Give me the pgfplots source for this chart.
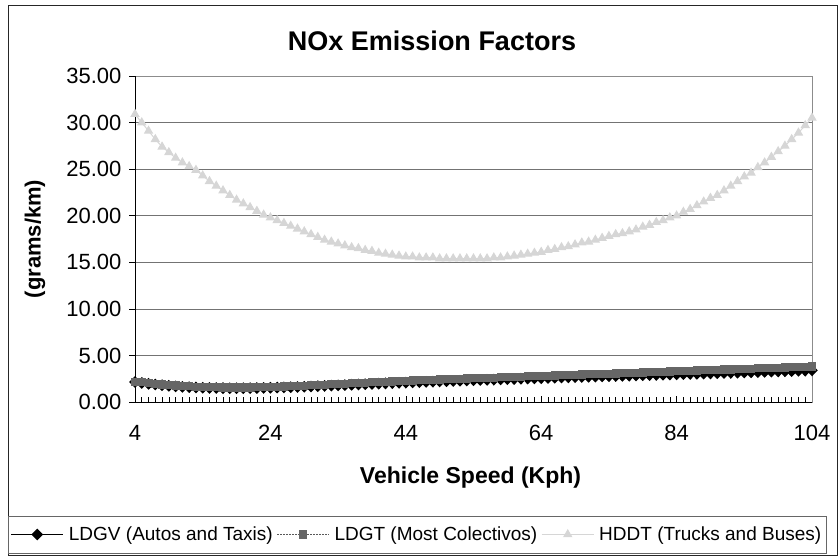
\documentclass[border=0pt]{standalone}
\usepackage{fontspec}
\setmainfont{Liberation Sans}
\usepackage{pgfplots}
\usepackage{pgfplotstable}
\pgfplotsset{compat=1.18}

% NOx emission factors (g/km) by vehicle speed (km/h)
\pgfplotstableread{
speed ldgv ldgt hddt
4 2.15 2.20 30.9
5 2.05 2.12 30.0
6 1.95 2.04 29.1
7 1.88 1.97 28.2
8 1.80 1.90 27.4
9 1.74 1.84 26.8
10 1.68 1.78 26.2
11 1.63 1.73 25.7
12 1.59 1.69 25.3
13 1.56 1.65 24.9
14 1.53 1.62 24.3
15 1.51 1.60 23.7
16 1.50 1.58 23.2
17 1.49 1.57 22.7
18 1.48 1.56 22.2
19 1.48 1.56 21.7
20 1.48 1.56 21.3
21 1.49 1.57 20.9
22 1.50 1.58 20.5
23 1.51 1.60 20.1
24 1.53 1.62 19.8
25 1.55 1.64 19.5
26 1.57 1.67 19.2
27 1.59 1.70 18.9
28 1.61 1.73 18.6
29 1.64 1.76 18.3
30 1.67 1.80 18.0
31 1.70 1.83 17.7
32 1.73 1.87 17.4
33 1.76 1.91 17.2
34 1.79 1.94 17.0
35 1.82 1.98 16.8
36 1.85 2.02 16.6
37 1.88 2.05 16.5
38 1.91 2.09 16.3
39 1.94 2.12 16.2
40 1.97 2.16 16.0
41 2.00 2.19 15.9
42 2.03 2.22 15.8
43 2.06 2.25 15.7
44 2.08 2.28 15.6
45 2.11 2.31 15.6
46 2.13 2.34 15.5
47 2.16 2.37 15.5
48 2.18 2.40 15.5
49 2.21 2.43 15.4
50 2.23 2.45 15.4
51 2.26 2.48 15.4
52 2.28 2.51 15.4
53 2.31 2.53 15.4
54 2.33 2.56 15.4
55 2.36 2.58 15.4
56 2.38 2.61 15.4
57 2.40 2.63 15.5
58 2.43 2.66 15.5
59 2.45 2.68 15.6
60 2.47 2.71 15.7
61 2.50 2.73 15.8
62 2.52 2.76 15.9
63 2.54 2.78 16.0
64 2.56 2.81 16.1
65 2.58 2.83 16.3
66 2.61 2.86 16.4
67 2.63 2.88 16.6
68 2.65 2.91 16.7
69 2.67 2.93 16.9
70 2.69 2.96 17.1
71 2.71 2.98 17.2
72 2.73 3.01 17.4
73 2.75 3.03 17.6
74 2.77 3.06 17.8
75 2.79 3.08 18.0
76 2.81 3.11 18.1
77 2.83 3.13 18.3
78 2.85 3.16 18.5
79 2.87 3.18 18.8
80 2.89 3.21 19.0
81 2.91 3.23 19.3
82 2.93 3.26 19.5
83 2.95 3.28 19.8
84 2.97 3.31 20.0
85 2.99 3.33 20.4
86 3.01 3.36 20.7
87 3.03 3.39 21.1
88 3.05 3.41 21.5
89 3.07 3.44 21.9
90 3.09 3.46 22.2
91 3.11 3.49 22.7
92 3.13 3.51 23.2
93 3.15 3.54 23.7
94 3.17 3.56 24.2
95 3.19 3.59 24.6
96 3.21 3.62 25.2
97 3.23 3.64 25.7
98 3.26 3.67 26.3
99 3.28 3.70 26.9
100 3.30 3.72 27.5
101 3.32 3.75 28.2
102 3.35 3.78 28.9
103 3.37 3.80 29.7
104 3.40 3.83 30.5
}\noxtable

\begin{document}
\begin{tikzpicture}[x=1pt,y=1pt]
\path (0,0) rectangle (840,558);
% chart frame and legend box
\draw[black!85, line width=1pt] (8,3) rectangle (837,552);
\draw[black!60, line width=0.8pt] (8,5) rectangle (826,42);
\begin{axis}[
  at={(135pt,156pt)}, anchor=south west,
  scale only axis, width=677pt, height=326pt,
  xmin=4, xmax=104, ymin=0, ymax=35,
  xtick={4,24,...,104}, minor x tick num=19,
  ytick={0,5,...,35},
  xtick pos=bottom, ytick pos=left,
  tick align=inside,
  major tick length=6pt, minor tick length=5pt,
  major y tick style={xshift=-6pt},
  tick style={black, line width=0.6pt},
  ymajorgrids, grid style={black!55, line width=0.6pt},
  axis line style={black!45, line width=0.8pt},
  /pgf/number format/assume math mode=true,
  yticklabel={\pgfmathprintnumber[fixed,fixed zerofill,precision=2]{\tick}},
  ticklabel style={font=\fontsize{22}{24}\selectfont},
  xticklabel style={yshift=-20pt},
  yticklabel style={xshift=-10pt},
  title={\textbf{NOx Emission Factors}},
  title style={font=\fontsize{27}{30}\selectfont, at={(axis description cs:0.4387,1.09)}, anchor=center},
  xlabel={\textbf{Vehicle Speed (Kph)}},
  xlabel style={font=\fontsize{23}{25}\selectfont, at={(axis description cs:0.4956,-0.233)}, anchor=center},
  ylabel={\textbf{(grams/km)}},
  ylabel style={font=\fontsize{22}{24}\selectfont, at={(axis description cs:-0.1477,0.5)}, anchor=center, rotate=0},
  legend columns=3,
  legend style={at={(axis description cs:0.4165,-0.4064)}, anchor=center, draw=none, fill=none,
    font=\fontsize{19}{22}\selectfont, inner sep=0pt,
    /tikz/every even column/.append style={column sep=2pt},
    /tikz/every odd column/.append style={column sep=3pt}},
  legend image code/.code={\draw[mark repeat=2,mark phase=2,#1] plot coordinates {(0pt,0pt) (26pt,0pt) (52pt,0pt)};},
]
\addplot[black, line width=1.3pt, mark=diamond*, mark size=5pt, mark options={solid, fill=black, xscale=1.3}]
  table[x=speed, y=ldgv] {\noxtable};
\addlegendentry{LDGV (Autos and Taxis)}
\addplot[black!65, line width=0.8pt, dash pattern=on 2pt off 1pt, mark=square*, mark size=3.6pt, mark options={solid, fill=black!60, draw=black!60}]
  table[x=speed, y=ldgt] {\noxtable};
\addlegendentry{LDGT (Most Colectivos)}
\addplot[black!16, line width=1pt, mark=triangle*, mark size=4.5pt, mark options={solid, fill=black!16, draw=black!16}]
  table[x=speed, y=hddt] {\noxtable};
\addlegendentry{HDDT (Trucks and Buses)}
\draw[black, line width=0.9pt] (rel axis cs:0,0) -- (rel axis cs:1,0);
\draw[black, line width=0.9pt] (rel axis cs:0,0) -- (rel axis cs:0,1);
\end{axis}
\end{tikzpicture}
\end{document}
